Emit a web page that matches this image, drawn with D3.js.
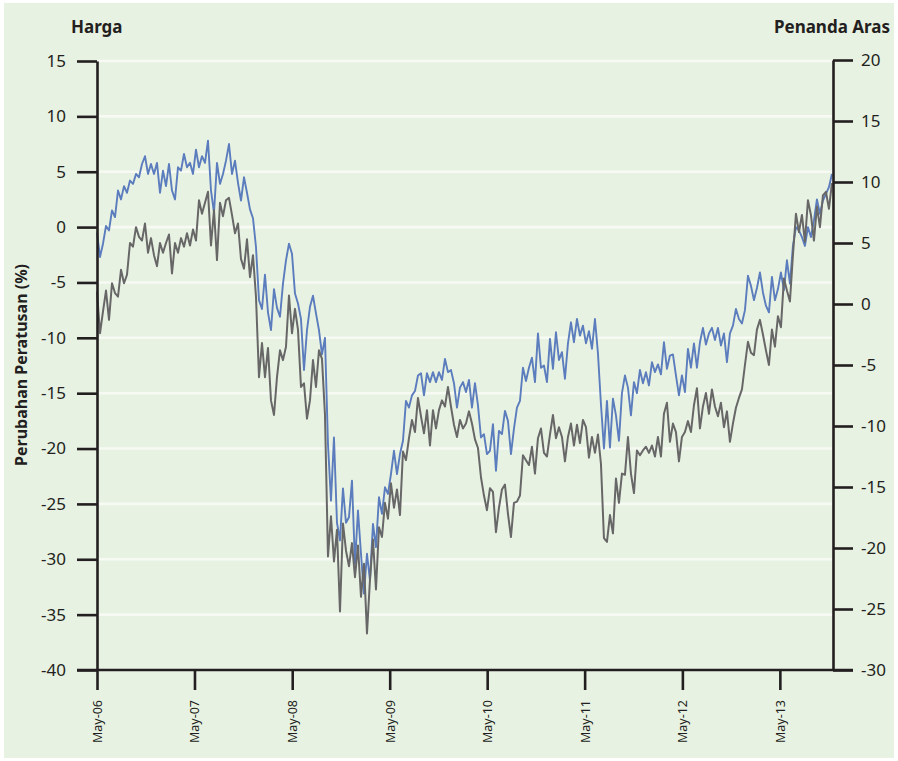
<!DOCTYPE html>
<html><head><meta charset="utf-8">
<script src="https://cdn.jsdelivr.net/npm/d3@7"></script>
<style>
html,body{margin:0;padding:0;background:#ffffff;}
svg{display:block;}
text{font-family:"Noto Sans",sans-serif;fill:#231f20;}
</style></head><body>
<svg id="chart" width="898" height="761"></svg>
<script>
// ---- data ----
const startDate = "2006-05-01";
const endDate = "2013-11-12";
const xTickDates = ["2006-05-01","2007-05-01","2008-05-01","2009-05-01","2010-05-01","2011-05-01","2012-05-01","2013-05-01"];
const leftTicks = [15,10,5,0,-5,-10,-15,-20,-25,-30,-35,-40];
const rightTicks = [20,15,10,5,0,-5,-10,-15,-20,-25,-30];
const leftTitle = "Harga";
const rightTitle = "Penanda Aras";
const yTitle = "Perubahan Peratusan (%)";

// Harga (left axis, blue)
const harga = [
 -0.5,-2.7,-1.5,0.1,-0.3,1.5,0.9,3.3,2.5,3.7,3.1,
 4.2,3.9,4.8,4.5,5.7,6.4,4.8,5.7,4.8,5.8,
 3.1,5.1,3.7,5.7,3.3,2.5,5.4,5.1,6.6,5.4,
 5.8,4.8,7.0,5.4,6.4,5.8,7.8,3.3,1.3,5.8,
 3.9,4.8,6.0,7.5,4.8,6.0,4.0,2.4,4.5,3.1,
 1.6,0.8,-1.8,-6.6,-7.4,-4.3,-7.7,-9.3,-5.6,-7.3,
 -8.1,-5.1,-3.0,-1.5,-2.4,-6.0,-6.9,-8.3,-12.9,-9.3,
 -7.2,-6.2,-7.8,-9.3,-11.5,-10.0,-19.6,-24.7,-19.0,-26.7,
 -28.3,-23.6,-26.7,-26.2,-22.9,-30.4,-25.6,-29.5,-33.1,-29.5,
 -31.9,-26.8,-28.9,-24.4,-25.9,-23.5,-24.1,-22.3,-20.2,-22.3,
 -20.5,-19.3,-15.7,-16.3,-15.2,-14.8,-13.4,-13.2,-15.2,-13.2,
 -14.0,-13.1,-14.0,-13.1,-13.8,-11.9,-13.1,-12.9,-14.1,-16.3,
 -14.5,-14.0,-14.9,-13.8,-16.3,-14.1,-16.1,-19.0,-18.7,-20.5,
 -20.2,-17.8,-22.0,-18.4,-18.7,-16.6,-17.5,-20.5,-18.2,-16.3,
 -15.7,-12.7,-13.9,-12.7,-11.8,-14.0,-9.6,-12.7,-12.5,-14.0,
 -10.1,-12.8,-9.5,-12.0,-11.3,-13.7,-10.5,-8.6,-10.4,-8.3,
 -9.8,-8.9,-10.5,-9.4,-11.0,-8.3,-11.4,-16.0,-20.0,-15.7,
 -19.9,-15.5,-17.0,-19.3,-15.0,-13.4,-14.5,-17.0,-14.0,-15.0,
 -12.9,-14.1,-13.1,-14.3,-12.2,-13.1,-12.4,-13.3,-10.4,-12.8,
 -11.6,-11.5,-13.4,-15.2,-13.4,-14.9,-11.0,-12.7,-10.5,-12.7,
 -10.4,-9.1,-10.6,-9.6,-9.1,-10.2,-9.1,-10.7,-9.6,-12.2,
 -9.6,-8.9,-7.4,-8.3,-8.7,-7.5,-4.4,-5.3,-6.6,-5.5,
 -4.1,-5.9,-7.1,-7.7,-4.5,-6.6,-5.6,-4.1,-5.7,-3.0,
 -5.1,-1.7,0.0,-0.3,-0.9,-1.7,0.0,-0.9,0.6,2.5,
 1.2,2.4,3.0,3.6,4.8
];

// Penanda Aras (right axis, grey)
const penandaAras = [
 1.0,-2.4,-0.6,1.1,-1.3,1.7,0.9,0.6,2.8,1.7,2.4,
 5.0,4.7,6.3,5.5,5.2,6.6,4.2,5.4,4.0,3.1,
 5.0,4.2,5.0,5.7,2.5,5.0,4.2,5.4,4.7,5.8,
 4.8,6.1,5.2,8.5,7.4,8.3,9.2,4.8,7.7,3.6,
 8.3,7.2,8.5,8.7,7.3,5.8,6.6,3.7,2.9,5.3,
 2.2,4.0,0.6,-6.0,-3.2,-6.0,-3.6,-7.9,-9.1,-6.0,
 -3.8,-4.6,-3.5,0.7,-2.4,-0.4,-2.1,-6.8,-6.5,-9.4,
 -7.9,-4.6,-6.8,-3.8,-4.5,-9.1,-20.7,-17.4,-21.1,-18.5,
 -25.2,-18.0,-20.2,-21.5,-19.6,-22.4,-19.8,-24.0,-21.3,-27.0,
 -22.6,-19.3,-23.4,-18.3,-19.1,-16.3,-17.6,-14.7,-16.7,-15.2,
 -17.3,-12.1,-12.8,-11.0,-9.5,-10.5,-7.7,-9.2,-10.6,-8.7,
 -11.6,-8.7,-10.2,-8.7,-7.9,-8.4,-6.8,-8.4,-9.9,-10.9,
 -9.5,-10.2,-9.8,-8.8,-9.8,-11.1,-11.8,-14.2,-15.7,-16.9,
 -15.1,-15.4,-18.7,-16.7,-15.2,-14.8,-17.2,-19.1,-16.3,-16.2,
 -15.7,-12.4,-12.8,-13.2,-11.7,-13.9,-11.0,-10.2,-12.2,-12.5,
 -10.7,-9.1,-11.0,-10.1,-10.9,-12.9,-10.9,-9.8,-11.6,-9.9,
 -11.4,-9.5,-10.1,-12.6,-10.9,-12.2,-10.7,-13.1,-19.2,-19.5,
 -17.3,-18.8,-14.3,-16.3,-13.9,-14.0,-10.9,-13.9,-15.5,-12.0,
 -12.4,-12.0,-11.7,-12.2,-11.6,-12.5,-10.9,-12.5,-9.0,-8.1,
 -11.3,-9.8,-10.5,-12.9,-10.9,-10.5,-9.6,-10.5,-8.3,-6.9,
 -10.2,-8.4,-7.3,-9.0,-7.0,-8.4,-9.2,-8.1,-10.1,-8.8,
 -11.3,-9.8,-8.5,-7.7,-7.0,-5.0,-3.1,-4.0,-4.2,-2.1,
 -1.3,-2.5,-3.8,-5.0,-2.1,-3.5,-1.0,-1.9,2.1,1.1,
 0.2,4.0,7.4,5.9,7.3,5.1,8.5,7.3,5.2,8.0,
 6.3,8.9,9.2,7.8,9.9
];

// ---- drawing ----
const parse = d3.timeParse("%Y-%m-%d");
const t0 = parse(startDate), t1 = parse(endDate);
function datesFor(arr){
  const n = arr.length;
  return arr.map((v,i)=> new Date(+t0 + (t1 - t0) * i / (n - 1)));
}

const svg = d3.select("#chart");
const W = 898, H = 761;
const ink = "#231f20";
const fmt = d => String(d);   // plain hyphen-minus, as in the original

svg.append("rect").attr("x",4).attr("y",3).attr("width",W-8).attr("height",H-6).attr("fill","#e8f2e3");

const x = d3.scaleTime().domain([parse("2006-05-01"), parse("2013-11-16")]).range([97, 833]);
const yL = d3.scaleLinear().domain([-40, 15]).range([670, 61]);
const yR = d3.scaleLinear().domain([-30, 20]).range([670, 60]);

// grid lines
svg.append("g").selectAll("line").data(leftTicks.filter(t => t > -40)).join("line")
  .attr("x1", 97).attr("x2", 833)
  .attr("y1", d => yL(d)).attr("y2", d => yL(d))
  .attr("stroke", "#f6faf3").attr("stroke-width", 2.6);

// series
const line = (scale, dates) => d3.line().x((d,i) => x(dates[i])).y(d => scale(d));
const hDates = datesFor(harga), pDates = datesFor(penandaAras);
svg.append("path").datum(harga).attr("fill","none").attr("stroke","#5b7cbd")
  .attr("stroke-width",1.9).attr("stroke-linejoin","round").attr("d", line(yL, hDates));
svg.append("path").datum(penandaAras).attr("fill","none").attr("stroke","#676767")
  .attr("stroke-width",2).attr("stroke-linejoin","round").attr("d", line(yR, pDates));

// axes
function styleAxis(g){
  g.selectAll(".tick line").attr("stroke", ink).attr("stroke-width", 2.6);
  g.select(".domain").attr("stroke", ink).attr("stroke-width", 2.6);
  g.selectAll("text").style("font-family", '"Noto Sans",sans-serif').attr("fill", ink);
}
const gL = svg.append("g").attr("transform","translate(97,0)")
  .call(d3.axisLeft(yL).tickValues(leftTicks).tickSize(20).tickSizeOuter(0).tickPadding(11).tickFormat(fmt));
styleAxis(gL); gL.selectAll("text").style("font-size","17px");

const gR = svg.append("g").attr("transform","translate(833,0)")
  .call(d3.axisRight(yR).tickValues(rightTicks).tickSize(20).tickSizeOuter(0).tickPadding(8).tickFormat(fmt));
styleAxis(gR); gR.selectAll("text").style("font-size","17px");

const gX = svg.append("g").attr("transform","translate(0,670)")
  .call(d3.axisBottom(x).tickValues(xTickDates.map(parse)).tickSize(20).tickSizeOuter(0).tickFormat(d3.timeFormat("%b-%y")));
styleAxis(gX);
gX.select(".domain").remove();
gX.selectAll("text").style("font-size","12.5px")
  .attr("transform","rotate(-90)").attr("x",-30).attr("y",0).attr("dy","0.35em")
  .style("text-anchor","end");
svg.append("line").attr("x1",77).attr("x2",853).attr("y1",670).attr("y2",670)
  .attr("stroke",ink).attr("stroke-width",2.6);

// titles
svg.append("text").attr("x",71).attr("y",33).style("font-size","17px").style("font-weight","bold").text(leftTitle);
svg.append("text").attr("x",890).attr("y",33).attr("text-anchor","end").style("font-size","17px").style("font-weight","bold").text(rightTitle);
svg.append("text").attr("transform","translate(27,365) rotate(-90)").attr("text-anchor","middle")
  .style("font-size","16px").style("font-weight","bold").text(yTitle);
</script>
</body></html>
